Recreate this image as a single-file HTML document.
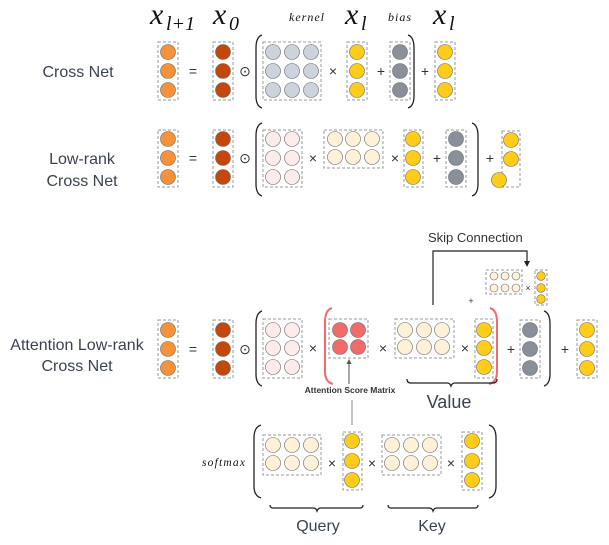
<!DOCTYPE html>
<html><head><meta charset="utf-8"><style>html,body{margin:0;padding:0;background:#fff}svg{display:block}</style></head>
<body>
<svg width="609" height="545" viewBox="0 0 609 545" xmlns="http://www.w3.org/2000/svg" font-family="Liberation Sans, sans-serif">
<defs>
<style>
.b{fill:none;stroke:#999;stroke-width:1;stroke-dasharray:3,2}
.c{stroke:#666;stroke-width:0.6}
.o{fill:#F7913A}.d{fill:#C4480B}.g{fill:#CDD3DC}.y{fill:#FFCC1A}.k{fill:#8A9099}.p{fill:#FCEBEB}.m{fill:#FFF1D8}.r{fill:#F26B6B}
.t{fill:#333;font-size:14px}
.lbl{fill:#3a4252;font-size:16px}
.br{fill:none;stroke:#222;stroke-width:1.3}
.rb{fill:none;stroke:#F26B6B;stroke-width:2}
.x{font-family:"Liberation Serif",serif;font-style:italic;fill:#111}
</style>
</defs>

<!-- labels top -->
<text class="x" x="150" y="24" font-size="30">x</text><text class="x" x="166" y="30" font-size="20">l+1</text>
<text class="x" x="213" y="24" font-size="30">x</text><text class="x" x="229" y="30" font-size="20">0</text>
<text class="x" x="289" y="21" font-size="12" letter-spacing="1">kernel</text>
<text class="x" x="345" y="24" font-size="30">x</text><text class="x" x="361" y="30" font-size="20">l</text>
<text class="x" x="388" y="21" font-size="12" letter-spacing="1">bias</text>
<text class="x" x="433" y="24" font-size="30">x</text><text class="x" x="449" y="30" font-size="20">l</text>

<text class="lbl" x="78" y="77" text-anchor="middle">Cross Net</text>
<text class="lbl" x="82" y="164" text-anchor="middle">Low-rank</text>
<text class="lbl" x="82" y="186" text-anchor="middle">Cross Net</text>
<text class="lbl" x="77" y="350" text-anchor="middle">Attention Low-rank</text>
<text class="lbl" x="77" y="371" text-anchor="middle">Cross Net</text>

<!-- ROW 1 -->
<rect class="b" x="158" y="42" width="20" height="58"/>
<circle class="c o" cx="168" cy="52" r="7.5"/><circle class="c o" cx="168" cy="71" r="7.5"/><circle class="c o" cx="168" cy="90" r="7.5"/>
<text class="t" x="193" y="76" text-anchor="middle">=</text>
<rect class="b" x="213" y="42" width="20" height="58"/>
<circle class="c d" cx="223" cy="52" r="7.5"/><circle class="c d" cx="223" cy="71" r="7.5"/><circle class="c d" cx="223" cy="90" r="7.5"/>
<text class="t" x="245" y="76" text-anchor="middle">⊙</text>
<path class="br" d="M262,35 Q256,37 256,48 L256,96 Q256,106 262,108"/>
<rect class="b" x="263" y="42" width="58" height="58"/>
<g class="c g"><circle cx="273" cy="52" r="7.5"/><circle cx="292" cy="52" r="7.5"/><circle cx="311" cy="52" r="7.5"/><circle cx="273" cy="71" r="7.5"/><circle cx="292" cy="71" r="7.5"/><circle cx="311" cy="71" r="7.5"/><circle cx="273" cy="90" r="7.5"/><circle cx="292" cy="90" r="7.5"/><circle cx="311" cy="90" r="7.5"/></g>
<text class="t" x="333" y="76" text-anchor="middle">×</text>
<rect class="b" x="347" y="42" width="20" height="58"/>
<g class="c y"><circle cx="357" cy="52" r="7.5"/><circle cx="357" cy="71" r="7.5"/><circle cx="357" cy="90" r="7.5"/></g>
<text class="t" x="381" y="76" text-anchor="middle">+</text>
<rect class="b" x="390" y="42" width="20" height="58"/>
<g class="c k"><circle cx="400" cy="52" r="7.5"/><circle cx="400" cy="71" r="7.5"/><circle cx="400" cy="90" r="7.5"/></g>
<path class="br" d="M408,35 Q414,37 414,48 L414,96 Q414,106 408,108"/>
<text class="t" x="425" y="76" text-anchor="middle">+</text>
<rect class="b" x="435" y="42" width="20" height="58"/>
<g class="c y"><circle cx="445" cy="52" r="7.5"/><circle cx="445" cy="71" r="7.5"/><circle cx="445" cy="90" r="7.5"/></g>

<!-- ROW 2 -->
<rect class="b" x="158" y="130" width="20" height="57"/>
<g class="c o"><circle cx="168" cy="139" r="7.5"/><circle cx="168" cy="158" r="7.5"/><circle cx="168" cy="177" r="7.5"/></g>
<text class="t" x="193" y="163" text-anchor="middle">=</text>
<rect class="b" x="213" y="130" width="20" height="57"/>
<g class="c d"><circle cx="223" cy="139" r="7.5"/><circle cx="223" cy="158" r="7.5"/><circle cx="223" cy="177" r="7.5"/></g>
<text class="t" x="245" y="163" text-anchor="middle">⊙</text>
<path class="br" d="M262,123 Q256,125 256,136 L256,184 Q256,194 262,196"/>
<rect class="b" x="263" y="130" width="39" height="57"/>
<g class="c p"><circle cx="273" cy="139" r="7.5"/><circle cx="292" cy="139" r="7.5"/><circle cx="273" cy="158" r="7.5"/><circle cx="292" cy="158" r="7.5"/><circle cx="273" cy="177" r="7.5"/><circle cx="292" cy="177" r="7.5"/></g>
<text class="t" x="313" y="163" text-anchor="middle">×</text>
<rect class="b" x="324" y="130" width="59" height="38"/>
<g class="c m"><circle cx="335" cy="139" r="7.5"/><circle cx="353" cy="139" r="7.5"/><circle cx="372" cy="139" r="7.5"/><circle cx="335" cy="157" r="7.5"/><circle cx="353" cy="157" r="7.5"/><circle cx="372" cy="157" r="7.5"/></g>
<text class="t" x="395" y="163" text-anchor="middle">×</text>
<rect class="b" x="404" y="130" width="19" height="57"/>
<g class="c y"><circle cx="413" cy="139" r="7.5"/><circle cx="413" cy="158" r="7.5"/><circle cx="413" cy="177" r="7.5"/></g>
<text class="t" x="437" y="163" text-anchor="middle">+</text>
<rect class="b" x="446" y="130" width="20" height="57"/>
<g class="c k"><circle cx="456" cy="139" r="7.5"/><circle cx="456" cy="158" r="7.5"/><circle cx="456" cy="177" r="7.5"/></g>
<path class="br" d="M472,123 Q478,125 478,136 L478,184 Q478,194 472,196"/>
<text class="t" x="490" y="163" text-anchor="middle">+</text>
<rect class="b" x="502" y="131" width="18" height="56"/>
<g class="c y"><circle cx="511" cy="140" r="7.5"/><circle cx="511" cy="159" r="7.5"/><circle cx="499" cy="180" r="7.5"/></g>

<!-- ROW 3 -->
<rect class="b" x="158" y="320" width="20" height="58"/>
<g class="c o"><circle cx="168" cy="330" r="7.5"/><circle cx="168" cy="349" r="7.5"/><circle cx="168" cy="368" r="7.5"/></g>
<text class="t" x="193" y="354" text-anchor="middle">=</text>
<rect class="b" x="213" y="320" width="20" height="58"/>
<g class="c d"><circle cx="223" cy="330" r="7.5"/><circle cx="223" cy="349" r="7.5"/><circle cx="223" cy="368" r="7.5"/></g>
<text class="t" x="245" y="354" text-anchor="middle">⊙</text>
<path class="br" d="M262,311 Q256,313 256,324 L256,374 Q256,384 262,386"/>
<rect class="b" x="263" y="319" width="39" height="59"/>
<g class="c p"><circle cx="273" cy="330" r="7.5"/><circle cx="292" cy="330" r="7.5"/><circle cx="273" cy="348" r="7.5"/><circle cx="292" cy="348" r="7.5"/><circle cx="273" cy="367" r="7.5"/><circle cx="292" cy="367" r="7.5"/></g>
<text class="t" x="313" y="353" text-anchor="middle">×</text>
<path class="rb" d="M332,308 Q325,310 325,322 L325,372 Q325,382 333,384"/>
<rect class="b" x="329" y="319" width="39" height="39"/>
<g class="c r"><circle cx="340" cy="330" r="7.5"/><circle cx="358" cy="330" r="7.5"/><circle cx="340" cy="347" r="7.5"/><circle cx="358" cy="347" r="7.5"/></g>
<text class="t" x="383" y="353" text-anchor="middle">×</text>
<rect class="b" x="395" y="319" width="59" height="39"/>
<g class="c m"><circle cx="405" cy="330" r="7.5"/><circle cx="424" cy="330" r="7.5"/><circle cx="442" cy="330" r="7.5"/><circle cx="405" cy="347" r="7.5"/><circle cx="424" cy="347" r="7.5"/><circle cx="442" cy="347" r="7.5"/></g>
<text class="t" x="465" y="353" text-anchor="middle">×</text>
<rect class="b" x="475" y="319" width="18" height="59"/>
<g class="c y"><circle cx="484" cy="330" r="7.5"/><circle cx="484" cy="348" r="7.5"/><circle cx="484" cy="367" r="7.5"/></g>
<path class="rb" d="M490,308 Q497,310 497,322 L497,372 Q497,382 489,384"/>
<text class="t" x="511" y="354" text-anchor="middle">+</text>
<rect class="b" x="520" y="320" width="20" height="58"/>
<g class="c k"><circle cx="530" cy="330" r="7.5"/><circle cx="530" cy="349" r="7.5"/><circle cx="530" cy="368" r="7.5"/></g>
<path class="br" d="M544,311 Q550,313 550,324 L550,374 Q550,384 544,386"/>
<text class="t" x="565" y="354" text-anchor="middle">+</text>
<rect class="b" x="577" y="320" width="20" height="58"/>
<g class="c y"><circle cx="587" cy="330" r="7.5"/><circle cx="587" cy="349" r="7.5"/><circle cx="587" cy="368" r="7.5"/></g>

<!-- skip connection -->
<text x="428" y="242" font-size="13" fill="#333">Skip Connection</text>
<path d="M433,305 L433,251 L527,251 L527,262" fill="none" stroke="#222" stroke-width="1.2"/>
<path d="M524,261 L530,261 L527,267 Z" fill="#222"/>
<rect class="b" x="486" y="270" width="36" height="24"/>
<g class="c m"><circle cx="494" cy="276" r="4"/><circle cx="505" cy="276" r="4"/><circle cx="516" cy="276" r="4"/><circle cx="494" cy="288" r="4"/><circle cx="505" cy="288" r="4"/><circle cx="516" cy="288" r="4"/></g>
<text x="528" y="291" font-size="9" text-anchor="middle" fill="#333">×</text>
<rect class="b" x="535" y="270" width="12" height="35"/>
<g class="c y"><circle cx="541" cy="276" r="4.3"/><circle cx="541" cy="288" r="4.3"/><circle cx="541" cy="299" r="4.3"/></g>
<text x="471" y="304" font-size="9" text-anchor="middle" fill="#333">+</text>

<!-- value brace -->
<path class="br" d="M407,379 Q407,383 411,383 L447,383 Q450,383 451,386 Q452,383 455,383 L493,383 Q497,383 497,379" stroke-width="1.2"/>
<text x="449" y="408" font-size="18" text-anchor="middle" fill="#3a4252">Value</text>

<!-- attention score -->
<line x1="349" y1="384" x2="349" y2="362" stroke="#555" stroke-width="1"/>
<path d="M346.5,364 L351.5,364 L349,359 Z" fill="#555"/>
<text x="350" y="393" font-size="8.5" font-weight="bold" text-anchor="middle" fill="#333">Attention Score Matrix</text>
<line x1="352" y1="400" x2="352" y2="425" stroke="#999" stroke-width="1.2"/>

<!-- softmax row -->
<text class="x" x="202" y="466" font-size="11.5" letter-spacing="1.2">softmax</text>
<path class="br" d="M261,425 Q254,427 254,438 L254,486 Q254,496 261,498"/>
<rect class="b" x="263" y="435" width="58" height="40"/>
<g class="c m"><circle cx="273" cy="445" r="7.5"/><circle cx="292" cy="445" r="7.5"/><circle cx="311" cy="445" r="7.5"/><circle cx="273" cy="463" r="7.5"/><circle cx="292" cy="463" r="7.5"/><circle cx="311" cy="463" r="7.5"/></g>
<text class="t" x="332" y="468" text-anchor="middle">×</text>
<rect class="b" x="343" y="432" width="19" height="58"/>
<g class="c y"><circle cx="352" cy="441" r="7.5"/><circle cx="352" cy="461" r="7.5"/><circle cx="352" cy="480" r="7.5"/></g>
<text class="t" x="372" y="468" text-anchor="middle">×</text>
<rect class="b" x="382" y="435" width="59" height="40"/>
<g class="c m"><circle cx="392" cy="445" r="7.5"/><circle cx="411" cy="445" r="7.5"/><circle cx="430" cy="445" r="7.5"/><circle cx="392" cy="463" r="7.5"/><circle cx="411" cy="463" r="7.5"/><circle cx="430" cy="463" r="7.5"/></g>
<text class="t" x="451" y="468" text-anchor="middle">×</text>
<rect class="b" x="462" y="432" width="20" height="58"/>
<g class="c y"><circle cx="472" cy="441" r="7.5"/><circle cx="472" cy="461" r="7.5"/><circle cx="472" cy="480" r="7.5"/></g>
<path class="br" d="M489,425 Q496,427 496,438 L496,486 Q496,496 489,498"/>

<path class="br" d="M270,505 Q270,508 273,508 L313,508 Q316,508 317,511 Q318,508 321,508 L360,508 Q363,508 363,505" stroke-width="1.1"/>
<path class="br" d="M388,505 Q388,508 391,508 L429,508 Q432,508 433,511 Q434,508 437,508 L475,508 Q478,508 478,505" stroke-width="1.1"/>
<text x="318" y="531" font-size="16" text-anchor="middle" fill="#3a4252">Query</text>
<text x="432" y="531" font-size="16" text-anchor="middle" fill="#3a4252">Key</text>
</svg>
</body></html>
